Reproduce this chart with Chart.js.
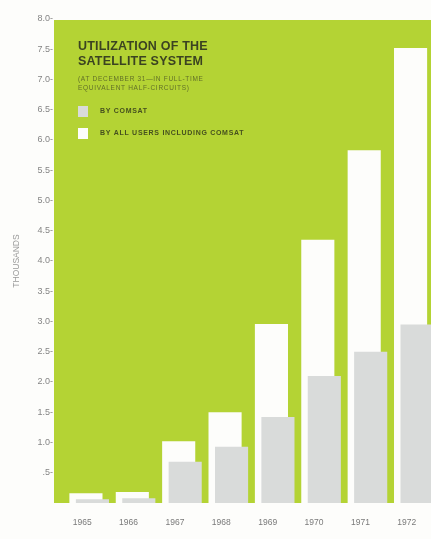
<!DOCTYPE html>
<html>
<head>
<meta charset="utf-8">
<script src="https://cdn.jsdelivr.net/npm/chart.js@4.4.1/dist/chart.umd.min.js"></script>
<style>
  html, body { margin: 0; padding: 0; background: #fdfdfb; overflow: hidden; }
  #wrap { position: relative; width: 440px; height: 539px; }
</style>
</head>
<body>
<div id="wrap"><canvas id="satChart"></canvas></div>
<script>
  // years on the x axis
  const years = ["1965", "1966", "1967", "1968", "1969", "1970", "1971", "1972"];
  // thousands of half-circuits, all users including COMSAT
  const allUsers = [0.16, 0.18, 1.02, 1.5, 2.96, 4.35, 5.83, 7.52];
  // thousands of half-circuits, COMSAT only
  const comsat = [0.06, 0.08, 0.68, 0.93, 1.42, 2.1, 2.5, 2.95];
  const titleLines = ["UTILIZATION OF THE", "SATELLITE SYSTEM"];
  const subtitleLines = ["(AT DECEMBER 31\u2014IN FULL-TIME", "EQUIVALENT HALF-CIRCUITS)"];
  const legendLabels = ["BY COMSAT", "BY ALL USERS INCLUDING COMSAT"];

  const GREEN = "#b4d334";
  const GREY = "#d9dbda";
  const WHITE = "#fdfdfb";

  // green panel behind the bars
  const panel = {
    id: "panel",
    beforeDraw(chart) {
      const { ctx, chartArea } = chart;
      ctx.save();
      ctx.fillStyle = GREEN;
      ctx.fillRect(chartArea.left - 12, chartArea.top + 1, chart.width, chartArea.bottom - chartArea.top - 1);
      ctx.restore();
    },
  };

  // draw datasets in index order so the grey (right) bar sits in front
  const drawOrder = {
    id: "drawOrder",
    beforeDatasetsDraw(chart) {
      chart.getSortedVisibleDatasetMetas().forEach((m) => m.controller.draw());
      return false;
    },
  };

  // title + legend inside the panel
  const caption = {
    id: "caption",
    afterDraw(chart) {
      const { ctx, chartArea } = chart;
      const x = chartArea.left + 12;
      ctx.save();
      ctx.textBaseline = "alphabetic";
      ctx.fillStyle = "#3b4321";
      ctx.font = "bold 12.5px 'Liberation Sans', Arial, sans-serif";
      ctx.letterSpacing = "0.2px";
      ctx.fillText(titleLines[0], x, 50);
      ctx.fillText(titleLines[1], x, 65);
      ctx.fillStyle = "#627028";
      ctx.font = "6.5px 'Liberation Sans', Arial, sans-serif";
      ctx.letterSpacing = "0.7px";
      ctx.fillText(subtitleLines[0], x, 81);
      ctx.fillText(subtitleLines[1], x, 90);

      const ds = chart.data.datasets;
      const rows = [
        { label: ds[1].label, color: ds[1].backgroundColor, y: 106 },
        { label: ds[0].label, color: ds[0].backgroundColor, y: 128 },
      ];
      ctx.font = "bold 7px 'Liberation Sans', Arial, sans-serif";
      ctx.letterSpacing = "0.7px";
      rows.forEach((r) => {
        ctx.fillStyle = r.color;
        ctx.fillRect(x, r.y, 10, 11);
        ctx.fillStyle = "#46501f";
        ctx.fillText(r.label, x + 22, r.y + 7);
      });
      ctx.restore();
    },
  };

  new Chart(document.getElementById("satChart"), {
    type: "bar",
    data: {
      labels: years,
      datasets: [
        {
          label: legendLabels[1],
          data: allUsers,
          backgroundColor: WHITE,
          borderWidth: 0,
        },
        {
          label: legendLabels[0],
          data: comsat,
          backgroundColor: GREY,
          borderWidth: 0,
        },
      ],
    },
    options: {
      responsive: true,
      maintainAspectRatio: false,
      animation: false,
      categoryPercentage: 0.28,
      barPercentage: 5.1,
      layout: { padding: { top: 19, right: 3, left: 0, bottom: 0 } },
      plugins: {
        legend: { display: false },
        tooltip: { enabled: false },
      },
      scales: {
        x: {
          grid: { display: false, drawTicks: false },
          border: { display: false },
          ticks: {
            color: "#7a7a7a",
            font: { size: 8.5, family: "'Liberation Sans', Arial, sans-serif" },
            padding: 15,
            labelOffset: -7,
            maxRotation: 0,
          },
          afterFit(scale) { scale.height = 36; },
        },
        y: {
          min: 0,
          max: 8,
          grid: { display: false, drawTicks: false },
          border: { display: false },
          ticks: {
            stepSize: 0.5,
            color: "#858585",
            font: { size: 9, family: "'Liberation Sans', Arial, sans-serif" },
            padding: 13,
            callback: (v) => (v === 0 ? "" : (v < 1 ? "." + Math.round(v * 10) : v.toFixed(1)) + "-"),
          },
          title: {
            display: true,
            text: "THOUSANDS",
            color: "#9a9a9a",
            font: { size: 8.5, family: "'Liberation Sans', Arial, sans-serif" },
            padding: { top: 12, bottom: 0 },
          },
          afterFit(scale) { scale.width = 66; },
        },
      },
    },
    plugins: [panel, drawOrder, caption],
  });
</script>
</body>
</html>
